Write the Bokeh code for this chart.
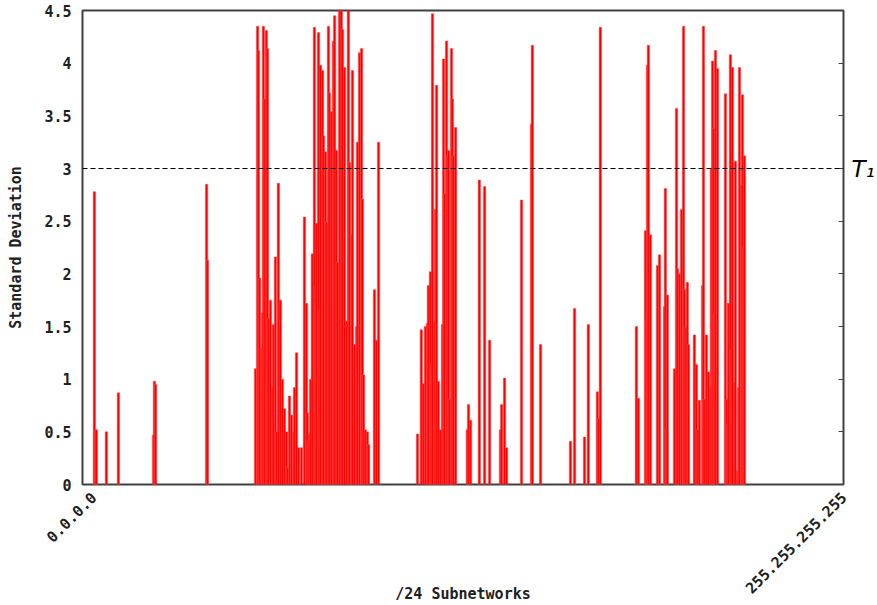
import math
from bokeh.plotting import figure
from bokeh.models import Range1d, FixedTicker, LinearAxis, Span
from bokeh.embed import file_html
from bokeh.resources import INLINE

# position of each /24 subnetwork, in /8 units (first-octet position, 0 .. 256)
subnet_pos = [
    0.3, 0.7, 1.0, 4.4, 8.5, 20.5, 20.8, 21.2, 38.6, 38.9,
    55.3, 56.0, 56.3, 56.7, 57.3, 57.7, 58.0, 58.4, 59.0, 59.4, 59.7,
    60.4, 61.1, 61.4, 62.1, 62.5, 63.1, 63.8, 64.5, 65.2, 65.9, 66.2,
    66.9, 67.6, 68.3, 68.6, 69.3, 70.0, 71.0,
    72.0, 72.7, 73.0, 73.4, 73.7, 74.1, 74.7, 75.4, 75.8, 76.1, 76.8,
    77.1, 77.5, 78.2, 78.5, 79.2, 79.5, 80.2, 80.5, 81.2, 81.9, 82.3,
    82.9, 83.3, 84.0, 84.6, 85.0, 85.7, 86.4, 87.0, 87.4, 88.1, 88.4,
    89.1, 89.8, 90.1, 90.8, 91.5, 91.8, 92.2, 92.8, 93.5, 93.9,
    95.9, 96.6, 97.3,
    110.6, 111.9, 112.6, 113.3, 114.0, 114.3, 115.0, 115.4, 115.7, 116.4,
    116.7, 117.1, 117.7, 118.4, 119.1, 119.5, 119.8, 120.5, 120.8, 121.2,
    121.5, 122.2, 122.5, 122.9, 123.6,
    127.6, 128.0, 128.7, 131.7, 133.5, 135.2, 138.9, 139.3, 140.3, 141.0,
    146.1, 149.5, 149.8, 152.6,
    162.8, 164.2, 167.6, 168.9, 172.0, 172.4, 173.0,
    185.3, 186.0, 188.4, 188.7, 189.1, 189.4, 190.1, 192.5, 193.2,
    194.9, 195.2, 195.6, 195.9, 198.3, 199.0, 199.3, 200.0, 200.7, 201.4,
    201.7, 202.1, 202.7, 203.1, 205.1, 205.8, 206.2, 206.8, 207.9, 208.2,
    208.5, 209.2, 209.9, 210.6, 210.9, 211.3, 211.6, 212.0, 212.3, 213.0,
    215.7, 216.1, 216.4, 216.7, 217.4, 217.8, 218.1, 218.8, 219.1, 219.8,
    220.2, 220.5, 221.2, 221.5, 221.9, 222.2,
]

std_dev = [
    2.78, 0.51, 0.52, 0.50, 0.87, 0.47, 0.98, 0.95, 2.85, 2.13,
    1.10, 4.35, 4.12, 1.96, 1.30, 1.63, 4.35, 3.66, 4.31, 4.14, 1.58,
    1.75, 0.92, 1.52, 2.16, 0.50, 2.86, 1.75, 1.00, 0.72, 0.50, 0.16,
    0.84, 0.66, 0.50, 0.92, 1.25, 0.35, 0.35,
    2.54, 1.72, 0.68, 0.41, 0.48, 1.00, 2.19, 4.34, 1.88, 2.48, 4.29,
    1.64, 3.98, 3.93, 3.31, 3.16, 2.49, 4.35, 3.72, 3.54, 4.21, 4.45,
    3.17, 2.11, 4.50, 4.50, 4.32, 3.96, 1.55, 4.50, 3.06, 2.37, 3.93,
    1.33, 1.50, 3.25, 4.10, 4.14, 2.71, 1.04, 0.52, 0.50, 0.38,
    1.85, 1.37, 3.25,
    0.48, 1.47, 0.96, 1.50, 1.53, 1.89, 2.02, 1.14, 4.47, 1.55,
    2.61, 3.79, 0.98, 0.52, 1.52, 4.04, 2.76, 4.21, 3.12, 3.17,
    0.81, 4.14, 3.66, 3.12, 3.39,
    0.52, 0.76, 0.61, 2.89, 2.83, 1.37, 0.52, 0.76, 1.01, 0.35,
    2.70, 3.42, 4.17, 1.33,
    0.41, 1.67, 0.45, 1.52, 0.88, 0.63, 4.34,
    1.50, 0.82, 2.41, 1.56, 3.98, 4.17, 2.37, 2.08, 2.18,
    1.69, 2.81, 0.53, 1.80, 1.10, 3.57, 2.05, 2.00, 2.61, 4.35,
    1.85, 1.49, 1.92, 1.33, 1.42, 1.14, 0.52, 0.80, 1.89, 4.35,
    0.81, 1.42, 1.07, 0.92, 3.00, 4.02, 3.38, 1.62, 4.12, 3.95,
    3.71, 0.81, 0.57, 1.72, 4.08, 1.27, 3.96, 0.97, 3.07, 0.13,
    0.92, 3.96, 2.84, 3.70, 2.25, 3.12,
]

threshold = 3.0
threshold_label = "T₁"
y_ticks = [0, 0.5, 1, 1.5, 2, 2.5, 3, 3.5, 4, 4.5]
y_tick_labels = ["0", "0.5", "1", "1.5", "2", "2.5", "3", "3.5", "4", "4.5"]
x_ticks = [0, 256]
x_tick_labels = ["0.0.0.0", "255.255.255.255"]

FONT = "DejaVu Sans Mono"
TXT = "#202020"

p = figure(width=877, height=605, output_backend="svg", toolbar_location=None,
           x_range=Range1d(-3.75, 256), y_range=Range1d(0, 4.5),
           min_border_left=82, min_border_right=34, min_border_top=10,
           min_border_bottom=120)
p.background_fill_color = "white"
p.border_fill_color = "white"
p.outline_line_color = "#404040"
p.outline_line_width = 2
p.xgrid.visible = False
p.ygrid.visible = False

p.vbar(x=subnet_pos, top=std_dev, bottom=0, width=0.8,
       fill_color="#ff0000", line_color="#ff5050", line_width=0.5)

p.add_layout(Span(location=threshold, dimension="width", line_color="black",
                  line_dash="5 3", line_width=1))

# left axis
ya = p.yaxis[0]
ya.ticker = FixedTicker(ticks=y_ticks)
ya.major_label_overrides = {t: l for t, l in zip(y_ticks, y_tick_labels)}
ya.major_tick_in = 0
ya.major_tick_out = 0
ya.minor_tick_in = 0
ya.minor_tick_out = 0
ya.axis_line_color = None
ya.major_label_standoff = 11
ya.major_label_text_font = FONT
ya.major_label_text_font_style = "bold"
ya.major_label_text_font_size = "15px"
ya.major_label_text_color = TXT
ya.axis_label = "Standard Deviation"
ya.axis_label_standoff = 16
ya.axis_label_text_font = FONT
ya.axis_label_text_font_style = "bold"
ya.axis_label_text_font_size = "15px"
ya.axis_label_text_color = TXT

# right mirrored ticks, with the threshold label
ra = LinearAxis(ticker=FixedTicker(ticks=y_ticks))
ra.major_label_overrides = {t: (threshold_label if t == threshold else "") for t in y_ticks}
ra.major_tick_in = 5
ra.major_tick_out = 0
ra.minor_tick_in = 0
ra.minor_tick_out = 0
ra.axis_line_color = None
ra.major_tick_line_color = "#404040"
ra.major_label_standoff = 8
ra.major_label_text_font = "DejaVu Sans"
ra.major_label_text_font_style = "italic"
ra.major_label_text_font_size = "23px"
ra.major_label_text_color = "black"
p.add_layout(ra, "right")

# bottom axis
xa = p.xaxis[0]
xa.ticker = FixedTicker(ticks=x_ticks)
xa.major_label_overrides = {t: l for t, l in zip(x_ticks, x_tick_labels)}
xa.major_label_orientation = math.pi / 4
xa.major_tick_in = 0
xa.major_tick_out = 0
xa.minor_tick_in = 0
xa.minor_tick_out = 0
xa.axis_line_color = None
xa.major_label_standoff = 10
xa.major_label_text_font = FONT
xa.major_label_text_font_style = "bold"
xa.major_label_text_font_size = "15px"
xa.major_label_text_color = TXT
xa.axis_label = "/24 Subnetworks"
xa.axis_label_standoff = -17
xa.axis_label_text_font = FONT
xa.axis_label_text_font_style = "bold"
xa.axis_label_text_font_size = "15px"
xa.axis_label_text_color = TXT

open("out.html", "w").write(file_html(p, INLINE))
